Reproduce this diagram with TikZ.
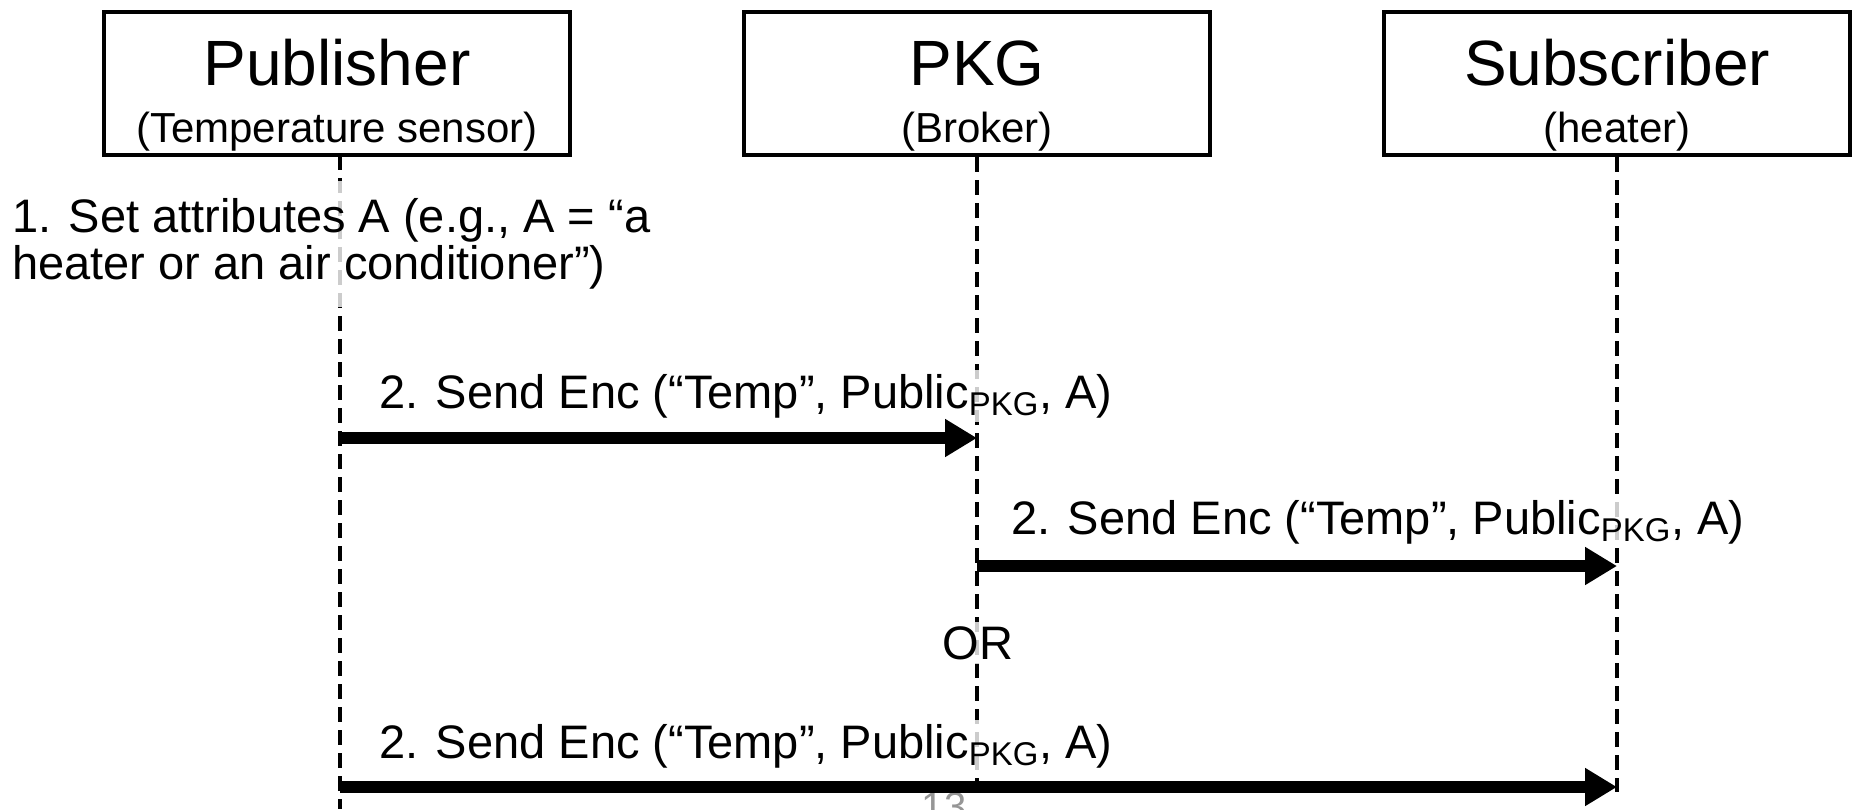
\documentclass[tikz,border=0pt]{standalone}
\usepackage{fontspec}
\setmainfont{Liberation Sans}
\usetikzlibrary{arrows.meta}
\tikzset{
  actorbox/.style={draw, line width=2.3pt, minimum width=233pt, minimum height=71.5pt, inner sep=0pt},
  ttl/.style={font=\fontsize{32}{32}\selectfont, inner sep=0pt},
  subttl/.style={font=\fontsize{21}{21}\selectfont, inner sep=0pt},
  lifeline/.style={line width=2.2pt, dash pattern=on 7.5pt off 4pt},
  lbl/.style={font=\fontsize{23.5}{23.5}\selectfont, fill=white, fill opacity=0.8, text opacity=1, inner sep=2pt},
  msg/.style={line width=6.4pt, -{Triangle[length=16pt,width=18pt]}},
}
\begin{document}
\begin{tikzpicture}[x=0.5pt,y=-0.5pt]
\useasboundingbox (0,0) rectangle (1858,809);
% actor boxes
\node[actorbox] (pub) at (337,83.5) {};
\node[actorbox] (pkg) at (977,83.5) {};
\node[actorbox] (sub) at (1617,83.5) {};
\node[ttl, anchor=base] (pubt) at (337,85) {Publisher};
\node[subttl, anchor=base] (pubs) at (337,142) {(Temperature sensor)};
\node[ttl, anchor=base] (pkgt) at (977,85) {PKG};
\node[subttl, anchor=base] (pkgs) at (977,142) {(Broker)};
\node[ttl, anchor=base] (subt) at (1617,85) {Subscriber};
\node[subttl, anchor=base] (subs) at (1617,142) {(heater)};
% lifeline ends
\coordinate (pubend) at (340,809);
\coordinate (pubtop) at (340,155);
\coordinate (pkgend) at (977,787);
\coordinate (subend) at (1617,792);
\draw[lifeline] (pubtop) -- (pubend);
\draw[lifeline] (pkg.south) -- (pkgend);
\draw[lifeline] (sub.south) -- (subend);
% labels
\node[lbl, anchor=west, align=left, inner ysep=9pt] (step1) at (8,244) {1. Set attributes A (e.g., A = “a\\heater or an air conditioner”)};
\node[lbl, anchor=base west] (l1) at (375,408) {2. Send Enc (“Temp”, Public\textsubscript{PKG}, A)};
\node[lbl, anchor=base west] (l2) at (1007,534) {2. Send Enc (“Temp”, Public\textsubscript{PKG}, A)};
\node[lbl] (or) at (978,643) {OR};
\node[lbl, anchor=base west] (l3) at (375,758) {2. Send Enc (“Temp”, Public\textsubscript{PKG}, A)};
\node[font=\fontsize{20}{20}\selectfont, text={rgb,255:red,150;green,150;blue,150}, inner sep=0pt, anchor=north] (pgno) at (944,792) {13};
% messages
\coordinate (m1a) at (340,438);
\coordinate (m1b) at (977,438);
\coordinate (m2a) at (977,566);
\coordinate (m2b) at (1617,566);
\coordinate (m3a) at (340,787);
\coordinate (m3b) at (1617,787);
\draw[msg] (m1a) -- (m1b);
\draw[msg] (m2a) -- (m2b);
\draw[msg] (m3a) -- (m3b);
\end{tikzpicture}
\end{document}
